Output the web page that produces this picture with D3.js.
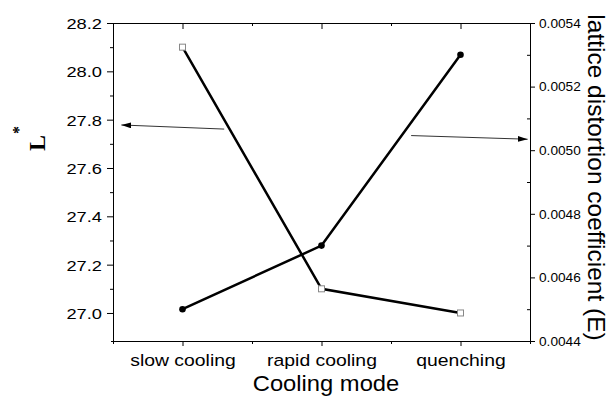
<!DOCTYPE html>
<html>
<head>
<meta charset="utf-8">
<script src="https://cdn.jsdelivr.net/npm/d3@7"></script>
<style>
  body { margin: 0; background: #fff; }
  svg { display: block; }
</style>
</head>
<body>
<svg id="chart" width="608" height="396"></svg>
<script>
// data
const modes = ["slow cooling", "rapid cooling", "quenching"];
const lightness = [28.1, 27.1, 27.0];          // L*, left axis, open squares
const distortion = [0.0045, 0.0047, 0.0053];   // E, right axis, filled dots
const leftTicks = [27.0, 27.2, 27.4, 27.6, 27.8, 28.0, 28.2];
const leftMinor = [27.1, 27.3, 27.5, 27.7, 27.9, 28.1];
const rightTicks = [0.0044, 0.0046, 0.0048, 0.0050, 0.0052, 0.0054];
const rightMinor = [0.0045, 0.0047, 0.0049, 0.0051, 0.0053];
// arrows pointing at the axis each series belongs to (category index, value)
const arrowLeft = [[0.30, 27.761], [-0.44, 27.778]];
const arrowRight = [[1.645, 0.005046], [2.483, 0.0050345]];

const svg = d3.select("#chart");
const box = {left: 113, right: 530, top: 23, bottom: 341};
const font = "'Liberation Sans', Arial, sans-serif";

const x = d3.scalePoint().domain(modes).range([box.left, box.right]).padding(0.5);
const xi = d3.scaleLinear().domain([-0.5, 2.5]).range([box.left, box.right]);
const yL = d3.scaleLinear().domain([26.884, 28.2]).range([box.bottom, box.top]);
const yR = d3.scaleLinear().domain([0.0044, 0.0054]).range([box.bottom, box.top]);

// --- axes ---
function styleAxis(g) {
  g.select(".domain").attr("stroke", "#000");
  g.selectAll(".tick line").attr("stroke", "#000");
  g.attr("font-family", font);
}

// bottom
const gBottom = svg.append("g").attr("transform", `translate(0,${box.bottom})`)
  .call(d3.axisBottom(x).tickSize(5).tickSizeOuter(0));
styleAxis(gBottom);
gBottom.select(".domain").attr("d", `M${box.left - 2},0.5H${box.right}`);
gBottom.selectAll("text")
  .attr("font-size", 17).attr("fill", "#000")
  .attr("y", 24.7).attr("dy", null)
  .attr("transform", "scale(1.14,1)");
svg.append("g").attr("transform", `translate(0,${box.bottom})`)
  .call(d3.axisBottom(xi).tickValues([-0.5, 0.5, 1.5, 2.5]).tickSize(3).tickFormat(""))
  .call(g => g.select(".domain").remove());

// top (ticks inward)
const gTop = svg.append("g").attr("transform", `translate(0,${box.top})`)
  .call(d3.axisBottom(x).tickSize(6).tickSizeOuter(0).tickFormat(""));
styleAxis(gTop);
gTop.select(".domain").attr("d", `M${box.left},0.5H${box.right}`);
svg.append("g").attr("transform", `translate(0,${box.top})`)
  .call(d3.axisBottom(xi).tickValues([0.5, 1.5]).tickSize(3).tickFormat(""))
  .call(g => g.select(".domain").remove());

// left
const gLeft = svg.append("g").attr("transform", `translate(${box.left},0)`)
  .call(d3.axisLeft(yL).tickValues(leftTicks).tickSize(6).tickSizeOuter(0).tickFormat(d3.format(".1f")));
styleAxis(gLeft);
gLeft.selectAll("text")
  .attr("font-size", 15.5).attr("fill", "#000")
  .attr("x", -11 / 1.18).attr("y", 5.5).attr("dy", null)
  .attr("transform", "scale(1.18,1)");
svg.append("g").attr("transform", `translate(${box.left},0)`)
  .call(d3.axisLeft(yL).tickValues(leftMinor).tickSize(3).tickFormat(""))
  .call(g => g.select(".domain").remove());

// right
const gRight = svg.append("g").attr("transform", `translate(${box.right},0)`)
  .call(d3.axisRight(yR).tickValues(rightTicks).tickSize(5).tickSizeOuter(0).tickFormat(d3.format(".4f")));
styleAxis(gRight);
gRight.selectAll("text")
  .attr("font-size", 12).attr("fill", "#000")
  .attr("x", 9 / 1.14).attr("y", 4.2).attr("dy", null)
  .attr("transform", "scale(1.14,1)");
svg.append("g").attr("transform", `translate(${box.right},0)`)
  .call(d3.axisLeft(yR).tickValues(rightMinor).tickSize(3).tickFormat(""))
  .call(g => g.select(".domain").remove());

// --- axis titles ---
svg.append("text")
  .attr("transform", "translate(326,391) scale(1.08,1)")
  .attr("text-anchor", "middle")
  .attr("font-family", font).attr("font-size", 22)
  .text("Cooling mode");

svg.append("text")
  .attr("transform", "translate(587.5,177.5) rotate(90)")
  .attr("text-anchor", "middle")
  .attr("font-family", font).attr("font-size", 24.5)
  .text("lattice distortion coefficient (E)");

svg.append("text")
  .attr("transform", "translate(45,151) rotate(-90)")
  .attr("font-family", "'Liberation Serif', 'Times New Roman', serif")
  .attr("font-weight", "bold").attr("font-size", 24)
  .text("L");
svg.append("text")
  .attr("transform", "translate(24,134) rotate(-90)")
  .attr("font-family", "'Liberation Serif', 'Times New Roman', serif")
  .attr("font-weight", "bold").attr("font-size", 16)
  .text("*");

// --- arrows ---
svg.append("defs").append("marker")
  .attr("id", "head")
  .attr("viewBox", "0 0 10 6")
  .attr("refX", 10).attr("refY", 3)
  .attr("markerWidth", 10).attr("markerHeight", 6)
  .attr("markerUnits", "userSpaceOnUse")
  .attr("orient", "auto")
  .append("path").attr("d", "M0,0L10,3L0,6Z").attr("fill", "#000");

const arrowLine = (pts, y) => d3.line().x(d => xi(d[0])).y(d => y(d[1]))(pts);
svg.append("path").attr("d", arrowLine(arrowLeft, yL))
  .attr("stroke", "#333").attr("stroke-width", 1).attr("fill", "none")
  .attr("marker-end", "url(#head)");
svg.append("path").attr("d", arrowLine(arrowRight, yR))
  .attr("stroke", "#333").attr("stroke-width", 1).attr("fill", "none")
  .attr("marker-end", "url(#head)");

// --- series ---
const lineL = d3.line().x((d, i) => x(modes[i])).y(d => yL(d));
const lineR = d3.line().x((d, i) => x(modes[i])).y(d => yR(d));

svg.append("path").attr("d", lineL(lightness))
  .attr("fill", "none").attr("stroke", "#000").attr("stroke-width", 2.5);
svg.append("path").attr("d", lineR(distortion))
  .attr("fill", "none").attr("stroke", "#000").attr("stroke-width", 2.5);

svg.selectAll("rect.sq").data(lightness).join("rect")
  .attr("class", "sq")
  .attr("x", (d, i) => x(modes[i]) - 3).attr("y", d => yL(d) - 3)
  .attr("width", 6).attr("height", 6)
  .attr("fill", "#fff").attr("stroke", "#888").attr("stroke-width", 1);

svg.selectAll("circle.dot").data(distortion).join("circle")
  .attr("class", "dot")
  .attr("cx", (d, i) => x(modes[i])).attr("cy", d => yR(d))
  .attr("r", 3.3).attr("fill", "#000");
</script>
</body>
</html>
